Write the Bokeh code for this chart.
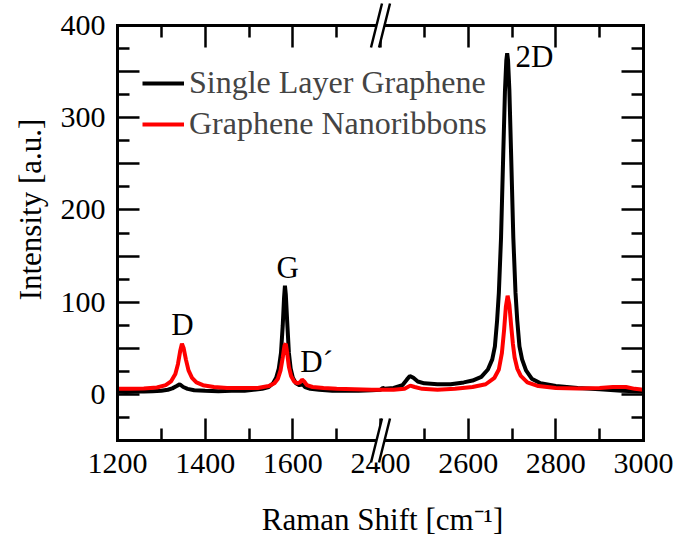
import numpy as np
from bokeh.plotting import figure
from bokeh.models import (FixedTicker, LinearAxis, Range1d, Legend, LegendItem,
                          Label, Arrow, PolyAnnotation)
from bokeh.embed import file_html
from bokeh.resources import INLINE

# ---------------- data ----------------
slg_shift = [1200, 1220, 1240, 1260, 1280, 1300, 1315, 1325, 1335, 1342, 1350, 1360,
             1375, 1400, 1430, 1460, 1490, 1510, 1530, 1545, 1555, 1562, 1568, 1573,
             1577, 1580, 1582, 1584, 1587, 1591, 1595, 1600, 1607, 1615, 1622, 1628,
             1640, 1660, 1690, 1720, 1750, 1780, 1800,
             2400, 2405, 2410, 2430, 2450, 2460, 2467, 2475, 2485, 2500, 2530, 2560,
             2590, 2610, 2630, 2645, 2655, 2661, 2666, 2670, 2675, 2680, 2684, 2687,
             2689, 2691, 2694, 2698, 2703, 2708, 2712, 2717, 2723, 2732, 2745, 2765,
             2800, 2850, 2900, 2950, 3000]
slg_intensity = [3, 2.5, 3, 3, 3.5, 4, 5, 6.5, 9, 11, 8, 6,
                 4.5, 4, 3.5, 4, 4, 5, 6, 8, 12, 18, 28, 45,
                 75, 105, 118, 108, 80, 45, 28, 18, 12, 10, 11, 8,
                 6, 5, 4, 4, 4, 4.5, 5,
                 5, 7, 6, 7, 10, 16, 20, 18, 14, 12, 11, 11,
                 13, 15, 19, 27, 38, 52, 80, 110, 170, 260, 330, 362,
                 370, 362, 330, 260, 170, 110, 80, 52, 38, 26, 17, 12,
                 9, 7, 5.5, 4, 3]

gnr_shift = [1200, 1230, 1260, 1290, 1310, 1322, 1332, 1338, 1343, 1347, 1351, 1356,
             1362, 1370, 1380, 1395, 1420, 1450, 1490, 1520, 1545, 1558, 1566, 1572,
             1577, 1581, 1584, 1587, 1591, 1596, 1603, 1610, 1616, 1621, 1626, 1632,
             1645, 1670, 1700, 1740, 1780, 1800,
             2400, 2430, 2455, 2468, 2478, 2495, 2530, 2570, 2610, 2640, 2660, 2670,
             2677, 2682, 2686, 2690, 2694, 2698, 2702, 2706, 2712, 2720, 2735, 2760,
             2800, 2850, 2900, 2930, 2960, 2980, 3000]
gnr_intensity = [6, 6, 6.5, 7.5, 10, 14, 22, 33, 47, 55, 50, 38,
                 26, 18, 13, 10, 8, 7, 7, 7, 9, 12, 17, 26,
                 40, 53, 55, 45, 30, 20, 14, 12, 13, 16, 14, 10,
                 8, 7, 6, 5.5, 5, 5,
                 5, 5, 6, 9.5, 8, 6, 5, 6, 8, 11, 18, 27,
                 45, 70, 95, 107, 97, 75, 55, 40, 28, 20, 13, 9,
                 7, 6.5, 7, 8, 8, 6, 5]

x_major_ticks = [1200, 1400, 1600, 2400, 2600, 2800, 3000]
x_minor_ticks = [1300, 1500, 1700, 2500, 2700, 2900]
y_labelled = [0, 100, 200, 300, 400]
y_long_unlabelled = [-50, 50, 150, 250, 350]
y_minor_ticks = [-25, 25, 75, 125, 175, 225, 275, 325, 375]

peak_names = ["D", "G", "D\u00b4", "2D"]
peak_shift = [1348, 1588, 1617, 2708]
peak_height = [76, 138, 36, 366]
peak_align = ["center", "center", "left", "left"]

series_names = ["Single Layer Graphene", "Graphene Nanoribbons"]
x_title = "Raman Shift [cm\u207b\u00b9]"
y_title = "Intensity [a.u.]"

# ---------------- layout (pixels) ----------------
W, H = 675, 539
BOX_L, BOX_R, BOX_T, BOX_B = 117, 643, 25, 440

# ---------------- broken axis helpers ----------------
BREAK_LO, BREAK_HI = 1800, 2400
GAP = BREAK_HI - BREAK_LO
X0, X1, Y0, Y1 = 1200, 2400, -50, 400
KX = (BOX_R - BOX_L) / (X1 - X0)   # px per display unit
KY = (BOX_B - BOX_T) / (Y1 - Y0)


def to_display(x):
    x = np.asarray(x, dtype=float)
    return np.where(x >= BREAK_HI, x - GAP, x)


def px_to_x(px):
    return X0 + (px - BOX_L) / KX


def py_to_y(py):
    return Y1 - (py - BOX_T) / KY


FONT = "Liberation Serif"
TICK_FS = "30px"
TEXT_FS = "31px"
LEG_FS = "32px"

p = figure(width=W, height=H,
           x_range=Range1d(px_to_x(0), px_to_x(W)), y_range=Range1d(py_to_y(H), py_to_y(0)),
           x_axis_location=None, y_axis_location=None,
           output_backend="svg", toolbar_location=None,
           min_border=0, min_border_left=0, min_border_right=0, min_border_top=0, min_border_bottom=0)
p.outline_line_color = None
p.grid.visible = False
p.background_fill_color = "white"
p.border_fill_color = "white"

r1 = p.line(to_display(slg_shift), slg_intensity, line_color="black", line_width=4)
r2 = p.line(to_display(gnr_shift), gnr_intensity, line_color="#ff0000", line_width=4)

xt_disp = [float(v) for v in to_display(x_major_ticks)]
xm_disp = [float(v) for v in to_display(x_minor_ticks)]


def make_axis(side, loc, bounds, ticks, minor, minor_len, line):
    ax = LinearAxis(fixed_location=loc, bounds=bounds,
                    ticker=FixedTicker(ticks=ticks, minor_ticks=minor))
    ax.axis_line_width = 3
    ax.axis_line_color = "black" if line else None
    ax.axis_line_cap = "square"
    ax.major_tick_line_width = 2.5
    ax.minor_tick_line_width = 2.5
    ax.major_tick_line_color = "black"
    ax.minor_tick_line_color = "black"
    ax.major_tick_in = 22
    ax.major_tick_out = 0
    ax.minor_tick_in = minor_len
    ax.minor_tick_out = 0
    ax.major_label_text_font = FONT
    ax.major_label_text_font_size = TICK_FS
    ax.major_label_text_color = "black"
    p.add_layout(ax, side)
    return ax


# bottom axis (labelled)
bx = make_axis("below", Y0, (X0, X1), xt_disp, xm_disp, 12, True)
bx.major_label_overrides = {d: str(a) for d, a in zip(xt_disp, x_major_ticks)}
bx.major_label_standoff = 13
# left axis (labelled every 100)
ly = make_axis("left", X0, (Y0, Y1), y_labelled, y_minor_ticks, 12, True)
ly.major_label_standoff = 12
# long unlabelled ticks at -50, 50, 150, ... on the left
make_axis("left", X0, (Y0, Y1), [], y_long_unlabelled, 22, False)
# mirrored ticks on top and right
make_axis("above", Y1, (X0, X1), [], xt_disp, 22, True)
make_axis("above", Y1, (X0, X1), [], xm_disp, 12, False)
make_axis("right", X1, (Y0, Y1), [], y_labelled + y_long_unlabelled, 22, True)
make_axis("right", X1, (Y0, Y1), [], y_minor_ticks, 12, False)

# axis titles
p.add_layout(Label(x=px_to_x(30), y=py_to_y(209), text=y_title, angle=np.pi / 2,
                   text_align="center", text_baseline="middle", text_font=FONT,
                   text_font_size=TEXT_FS, text_color="black"))
p.add_layout(Label(x=px_to_x(382), y=py_to_y(519), text=x_title, text_align="center",
                   text_baseline="middle", text_font=FONT, text_font_size=TEXT_FS,
                   text_color="black"))

legend = Legend(items=[LegendItem(label=series_names[0], renderers=[r1]),
                       LegendItem(label=series_names[1], renderers=[r2])],
                location=(142, H - 142), border_line_color=None, background_fill_alpha=0,
                padding=0, spacing=4, glyph_width=42, glyph_height=36, label_height=36,
                label_standoff=5, label_text_font=FONT, label_text_font_size=LEG_FS)
p.add_layout(legend)

for name, sx, sy, al in zip(peak_names, peak_shift, peak_height, peak_align):
    p.add_layout(Label(x=float(to_display([sx])[0]), y=sy, text=name, text_font=FONT,
                       text_font_size=TEXT_FS, text_align=al, text_baseline="middle",
                       text_color="black"))

# break marks "//" across top and bottom frame lines
h, r, ext = 4 / KX, 5.5 / KX, 22 / KY
for yc in (Y1, Y0):
    yb, yt = yc - ext, yc + ext
    p.add_layout(PolyAnnotation(xs=[BREAK_LO - h - r, BREAK_LO - h + r, BREAK_LO + h + r, BREAK_LO + h - r],
                                ys=[yb, yt, yt, yb], fill_color="white", fill_alpha=1,
                                line_color=None, level="overlay"))
    for s in (-h, h):
        p.add_layout(Arrow(end=None, x_start=BREAK_LO + s - r, y_start=yb,
                           x_end=BREAK_LO + s + r, y_end=yt, line_width=2.5,
                           line_color="black", level="overlay"))

open("out.html", "w").write(file_html(p, INLINE))
